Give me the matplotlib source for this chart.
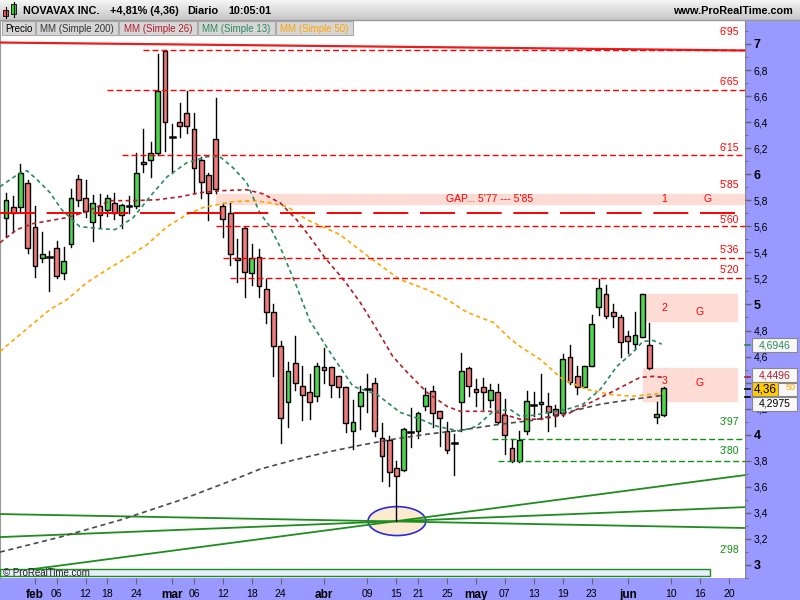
import matplotlib
matplotlib.use("Agg")
import matplotlib.pyplot as plt
from matplotlib.patches import Rectangle, Ellipse
import numpy as np

plt.rcParams['font.family'] = ['Liberation Sans', 'DejaVu Sans']

# ---- daily candles (feb .. jun) ----
opens = [5.667, 5.751, 5.751, 5.935, 5.598, 5.360, 5.368, 5.437, 5.245, 5.467,
         5.965, 5.820, 5.636, 5.758, 5.728, 5.781, 5.690, 5.758, 5.758, 6.096,
         6.111, 6.165, 6.946, 6.287, 6.402, 6.471, 6.348, 6.111, 5.996, 6.272,
         5.758, 5.705, 5.345, 5.590, 5.245, 5.368, 5.115, 4.939, 4.678, 4.249,
         4.548, 4.371, 4.326, 4.295, 4.517, 4.517, 4.448, 4.364, 4.027, 4.218,
         4.348, 4.394, 3.973, 3.958, 3.743, 3.728, 4.019, 4.027, 4.218, 4.333,
         4.180, 4.027, 3.935, 4.249, 4.509, 4.348, 4.364, 4.264, 4.326, 4.149,
         3.896, 3.797, 4.027, 4.226, 4.234, 4.218, 4.195, 4.165, 4.594, 4.448,
         4.364, 4.525, 4.977, 5.077, 4.946, 4.900, 4.755, 4.693, 4.747, 4.686,
         4.134, 4.149]
highs = [5.858, 5.835, 6.080, 5.958, 5.758, 5.559, 5.414, 5.490, 5.444, 5.889,
         5.996, 5.958, 5.843, 5.850, 5.843, 5.858, 5.774, 5.835, 6.165, 6.348,
         6.249, 6.923, 6.954, 6.387, 6.548, 6.640, 6.471, 6.134, 6.011, 6.586,
         5.781, 5.781, 5.506, 5.598, 5.467, 5.429, 5.199, 5.000, 4.716, 4.555,
         4.755, 4.525, 4.463, 4.548, 4.663, 4.517, 4.448, 4.364, 4.264, 4.371,
         4.463, 4.433, 4.088, 3.988, 3.797, 4.050, 4.203, 4.172, 4.356, 4.371,
         4.180, 4.096, 4.004, 4.624, 4.517, 4.425, 4.433, 4.387, 4.387, 4.272,
         3.965, 4.027, 4.333, 4.326, 4.463, 4.318, 4.226, 4.617, 4.686, 4.525,
         4.525, 4.923, 5.199, 5.153, 5.000, 4.923, 4.793, 4.939, 5.084, 4.854,
         4.249, 4.368]
lows = [5.529, 5.559, 5.720, 5.398, 5.214, 5.329, 5.100, 5.207, 5.199, 5.444,
        5.758, 5.674, 5.490, 5.598, 5.682, 5.659, 5.590, 5.705, 5.743, 6.019,
        5.981, 6.149, 6.180, 6.011, 6.287, 6.318, 5.858, 5.820, 5.651, 5.858,
        5.521, 5.306, 5.176, 5.054, 5.153, 5.061, 4.854, 4.448, 3.935, 4.057,
        4.341, 4.111, 4.119, 4.257, 4.394, 4.287, 4.287, 4.019, 3.889, 4.042,
        4.172, 3.988, 3.644, 3.605, 3.337, 3.720, 3.904, 3.973, 4.188, 4.057,
        3.912, 3.858, 3.689, 4.027, 4.295, 4.218, 4.195, 4.211, 4.090, 3.850,
        3.789, 3.789, 4.004, 4.142, 4.119, 4.027, 4.065, 4.142, 4.387, 4.310,
        4.364, 4.525, 4.923, 4.893, 4.824, 4.594, 4.624, 4.655, 4.747, 4.502,
        4.088, 4.142]
closes = [5.804, 5.705, 6.011, 5.437, 5.299, 5.391, 5.368, 5.222, 5.337, 5.820,
          5.804, 5.720, 5.781, 5.690, 5.820, 5.705, 5.766, 5.758, 6.011, 6.080,
          6.165, 6.640, 6.402, 6.287, 6.372, 6.372, 6.050, 5.942, 5.858, 5.889,
          5.659, 5.391, 5.360, 5.253, 5.360, 5.138, 4.939, 4.678, 4.126, 4.486,
          4.394, 4.303, 4.249, 4.525, 4.494, 4.379, 4.364, 4.088, 4.096, 4.326,
          4.348, 4.027, 3.835, 3.713, 3.682, 4.042, 4.019, 4.165, 4.303, 4.165,
          4.126, 3.881, 3.935, 4.486, 4.371, 4.326, 4.326, 4.341, 4.096, 3.996,
          3.797, 3.958, 4.257, 4.226, 4.249, 4.172, 4.149, 4.578, 4.402, 4.364,
          4.525, 4.847, 5.130, 4.908, 4.908, 4.709, 4.716, 4.762, 5.077, 4.509,
          4.157, 4.360]

# ---- moving averages (read at sample bars) ----
ma13_x = [-0.83, 1.94, 2.9, 4.3, 6.1, 7.7, 10.2, 13.0, 15.1, 17.6, 19.9, 22.3, 25.0,
          27.8, 29.6, 31.4, 33.3, 35.1, 36.5, 37.9, 40.2, 42.0, 45.2, 48.0, 51.3,
          54.5, 57.3, 59.6, 62.8, 65.1, 67.4, 69.7, 71.1, 72.9, 77.6, 79.8, 82.2,
          84.5, 86.7, 88.1, 89.5, 90.7]
ma13_y = [5.904, 6.011, 6.027, 5.958, 5.858, 5.728, 5.598, 5.582, 5.575, 5.667,
          5.827, 5.981, 6.088, 6.134, 6.134, 6.050, 5.935, 5.705, 5.598, 5.444,
          5.138, 4.877, 4.601, 4.371, 4.310, 4.172, 4.119, 4.065, 4.027, 4.065,
          4.180, 4.195, 4.142, 4.149, 4.195, 4.234, 4.348, 4.525, 4.632, 4.716,
          4.724, 4.695]
ma26_x = [-0.83, 1.52, 3.73, 8.44, 11.2, 14.4, 17.6, 20.9, 24.1, 26.8, 29.6, 33.3,
          35.5, 37.9, 40.2, 41.8, 44.1, 46.9, 49.0, 51.3, 53.5, 55.5, 58.2, 61.0,
          62.8, 67.4, 69.3, 71.1, 73.9, 77.6, 81.2, 84.5, 87.7, 89.5, 90.9]
ma26_y = [5.475, 5.575, 5.621, 5.667, 5.713, 5.797, 5.797, 5.804, 5.827, 5.858,
          5.873, 5.881, 5.850, 5.781, 5.651, 5.536, 5.360, 5.176, 5.015, 4.808,
          4.601, 4.479, 4.326, 4.218, 4.180, 4.180, 4.149, 4.119, 4.119, 4.157,
          4.257, 4.348, 4.440, 4.448, 4.440]
ma50_x = [-0.83, 6.09, 8.44, 11.2, 14.0, 16.7, 19.5, 22.3, 25.0, 27.2, 29.2, 31.4,
          34.2, 36.5, 38.9, 41.6, 46.2, 50.3, 54.5, 58.2, 61.0, 63.8, 67.4, 69.7,
          71.1, 73.9, 77.0, 80.4, 83.5, 86.7, 89.1, 90.9]
ma50_y = [4.640, 4.962, 5.038, 5.169, 5.268, 5.360, 5.460, 5.598, 5.690, 5.743,
          5.766, 5.789, 5.797, 5.781, 5.751, 5.651, 5.536, 5.360, 5.191, 5.115,
          5.038, 4.939, 4.862, 4.739, 4.678, 4.578, 4.425, 4.348, 4.310, 4.295,
          4.310, 4.318]
ma200_x = [-0.83, 7.47, 15.8, 24.1, 31.0, 35.1, 39.7, 44.4, 49.0, 53.5, 58.2, 62.8,
           68.3, 72.9, 77.6, 82.2, 86.7, 90.9]
ma200_y = [3.099, 3.214, 3.345, 3.498, 3.644, 3.735, 3.804, 3.866, 3.919, 3.965,
           4.004, 4.034, 4.080, 4.111, 4.172, 4.234, 4.272, 4.303]

# ---- drawings ----
red_levels = [6.95, 6.65, 6.15, 5.60, 5.36, 5.20]
red_labels = ["6'95", "6'65", "6'15", "5'60", "5'36", "5'20"]
red_start = [18.9, 14.0, 16.0, 29.0, 30.0, 31.0]
red_lbl_off = [13.3, 5.5, 5.0, 4.3, 5.8, 5.8]
green_levels = [3.97, 3.80]
green_labels = ["3'97", "3'80"]
green_start = [67.2, 68.0]
green_lbl_off = [12.0, 7.0]
long_level = 5.70
gap_lo, gap_hi = 5.77, 5.85
zone2 = (4.87, 5.077)
zone3 = (4.256, 4.509)
trend_green = [((-0.83, 3.391), (102.2, 3.284)),
               ((-0.83, 3.214), (102.2, 3.444)),
               ((-0.83, 2.935), (102.2, 3.690))]
trend_red = ((-0.83, 7.011), (102.2, 6.950))
circle_bar, circle_price = 54.08, 3.337

date_pos = [4, 7, 11, 14, 18, 23, 26, 30, 34, 38, 44, 50, 54, 57, 61, 65, 69, 73,
            77, 81, 86, 92, 96, 100]
date_lbl = ['feb', '06', '12', '18', '24', 'mar', '06', '12', '18', '24', 'abr', '09',
            '15', '21', '25', 'may', '07', '13', '19', '23', 'jun', '10', '16', '20']
months = ['feb', 'mar', 'abr', 'may', 'jun']

C13 = '#2a8a5e'
C26 = '#b01e2d'
C50 = '#ffa500'
C200 = '#4a4a4a'
PANEL = '#9999ff'
PINK = '#fddcd6'

fig = plt.figure(figsize=(8, 6), dpi=100)

# background (axis panels)
bg = fig.add_axes([0, 0, 1, 1])
bg.set_zorder(0)
bg.set_xlim(0, 800)
bg.set_ylim(600, 0)
bg.axis('off')
bg.add_patch(Rectangle((745, 20), 55, 580, color=PANEL))
bg.add_patch(Rectangle((0, 578), 800, 22, color=PANEL))
bg.plot([745, 745], [20, 578], color='#888888', lw=1)

# main chart
ax = fig.add_axes([0, 22 / 600, 745 / 800, 558 / 600])
ax.set_zorder(1)
ax.set_xlim(-0.83, 102.22)
ax.set_ylim(2.908, 7.184)
ax.set_facecolor('white')
for s in ['top', 'right', 'bottom']:
    ax.spines[s].set_visible(False)
ax.spines['left'].set_color('#999999')
ax.spines['left'].set_linewidth(1.5)

# zones
ax.add_patch(Rectangle((29.0, gap_lo), 80, gap_hi - gap_lo, color=PINK, zorder=1))
ax.add_patch(Rectangle((88.1, zone2[0]), 13.0, zone2[1] - zone2[0], color=PINK, zorder=1))
ax.add_patch(Rectangle((88.1, zone3[0]), 13.0, zone3[1] - zone3[0], color=PINK, zorder=1))

# ellipse + trend lines
ax.add_patch(Ellipse((circle_bar, circle_price), 8.0, 0.222, facecolor='#fdebd0',
                     edgecolor='#2b2bdd', lw=1.2, zorder=2))
for (x0, y0), (x1, y1) in trend_green:
    ax.plot([x0, x1], [y0, y1], color='#1e8c1e', lw=1.3, zorder=3)
ax.plot([trend_red[0][0], trend_red[1][0]], [trend_red[0][1], trend_red[1][1]],
        color='#e42020', lw=1.6, zorder=3)

# candles
w = 0.66
for i, (o, h, l, c) in enumerate(zip(opens, highs, lows, closes)):
    ax.plot([i, i], [l, h], color='black', lw=1, zorder=5)
    if c > o:
        fc = '#4fd64f'
    elif c < o:
        fc = '#ef7b7b'
    else:
        ax.plot([i - w / 2, i + w / 2], [c, c], color='black', lw=1.8, zorder=6)
        continue
    ax.add_patch(Rectangle((i - w / 2, min(o, c)), w, abs(c - o), facecolor=fc,
                           edgecolor='black', lw=1, zorder=6))

# moving averages
ax.plot(ma200_x, ma200_y, color=C200, lw=1.2, dashes=(3, 2.2), zorder=7)
ax.plot(ma50_x, ma50_y, color=C50, lw=1.2, dashes=(2.5, 2), zorder=7)
ax.plot(ma26_x, ma26_y, color=C26, lw=1.2, dashes=(2.5, 2), zorder=7)
ax.plot(ma13_x, ma13_y, color=C13, lw=1.2, dashes=(2.5, 2), zorder=7)

# horizontal levels
ax.plot([-0.83, 102.22], [long_level, long_level], color='red', lw=1.4,
        dashes=(18, 6), zorder=8)
for lv, lb, st, off in zip(red_levels, red_labels, red_start, red_lbl_off):
    ax.plot([st, 102.22], [lv, lv], color='red', lw=1, dashes=(4.3, 2.2), zorder=8)
    ax.annotate(lb, (101.4, lv), xytext=(0, off), textcoords='offset points',
                ha='right', va='center', color='red', fontsize=7.5, zorder=9)
ax.annotate("5'85", (101.4, gap_hi), xytext=(0, 6.5), textcoords='offset points',
            ha='right', va='center', color='red', fontsize=7.5, zorder=9)
for lv, lb, st, off in zip(green_levels, green_labels, green_start, green_lbl_off):
    ax.plot([st, 102.22], [lv, lv], color='#109010', lw=1, dashes=(4.3, 2.2), zorder=8)
    ax.annotate(lb, (101.4, lv), xytext=(0, off), textcoords='offset points',
                ha='right', va='center', color='#109010', fontsize=7.5, zorder=9)
ax.annotate("2'98", (101.4, 2.98), xytext=(0, 12.7), textcoords='offset points',
            ha='right', va='center', color='#109010', fontsize=7.5, zorder=9)

ax.text(66.9, (gap_lo + gap_hi) / 2, "GAP... 5'77 --- 5'85", color='red', fontsize=7.5,
        ha='center', va='center', zorder=9)
for y, num in [((gap_lo + gap_hi) / 2, '1'), (sum(zone2) / 2, '2'), (4.41, '3')]:
    ax.text(91.1, y, num, color='red', fontsize=7.5, ha='center', va='center', zorder=9)
ax.text(97.0, (gap_lo + gap_hi) / 2, 'G', color='red', fontsize=7.5, ha='center', va='center', zorder=9)
ax.text(96.0, sum(zone2) / 2 - 0.03, 'G', color='red', fontsize=7.5, ha='center', va='center', zorder=9)
ax.text(96.0, 4.40, 'G', color='red', fontsize=7.5, ha='center', va='center', zorder=9)

# y axis on the right (4,4 sits under the value boxes, so no label there)
yt = [round(3 + 0.2 * k, 1) for k in range(21)]
ylab = []
for v in yt:
    if v == 4.4:
        ylab.append('')
    elif v == int(v):
        ylab.append('%d' % v)
    else:
        ylab.append(('%.1f' % v).replace('.', ','))
ax.yaxis.tick_right()
ax.set_yticks(yt)
ax.set_yticklabels(ylab)
ax.set_yticks([round(2.9 + 0.1 * k, 1) for k in range(43)], minor=True)
ax.tick_params(axis='y', which='major', direction='out', length=4, width=1,
               color='#666666', pad=2, labelsize=7.5)
ax.tick_params(axis='y', which='minor', direction='out', length=2, color='#666666')
for t, v in zip(ax.get_yticklabels(), yt):
    if v == int(v):
        t.set_fontweight('bold')
        t.set_fontsize(9)

# x axis
ax.set_xticks(date_pos)
ax.set_xticklabels(date_lbl)
ax.tick_params(axis='x', direction='out', length=4, color='#666666', pad=4, labelsize=7.5)
for t in ax.get_xticklabels():
    if t.get_text() in months:
        t.set_fontweight('bold')
        t.set_fontsize(8.5)

# overlay: header, legend, value boxes
ov = fig.add_axes([0, 0, 1, 1])
ov.set_zorder(10)
ov.patch.set_visible(False)
grad = np.linspace(0.96, 0.78, 20)
ov.imshow(np.dstack([grad, grad, grad]).reshape(20, 1, 3),
          extent=(0, 800, 20, 0), aspect='auto')
ov.set_xlim(0, 800)
ov.set_ylim(600, 0)
ov.axis('off')
ov.plot([0, 800], [20, 20], color='#999999', lw=1)

# little icon
ov.plot([5.5, 5.5], [7, 18], color='black', lw=0.8)
ov.add_patch(Rectangle((3, 10), 5, 6, facecolor='#ef5050', edgecolor='black', lw=0.6))
ov.plot([13.5, 13.5], [2, 17], color='black', lw=0.8)
ov.add_patch(Rectangle((11, 4), 5, 10, facecolor='#30d030', edgecolor='black', lw=0.6))

ov.text(23, 11, 'NOVAVAX INC.', fontsize=7.8, fontweight='bold', va='center')
ov.text(110, 11, '+4,81% (4,36)', fontsize=7.8, fontweight='bold', va='center')
ov.text(187, 11, 'Diario', fontsize=7.8, fontweight='bold', va='center')
ov.text(228, 11, '10:05:01', fontsize=7.8, fontweight='bold', va='center')
ov.text(793, 11, 'www.ProRealTime.com', fontsize=7.8, fontweight='bold', va='center', ha='right')

leg = [('Precio', 'black', 2, 35), ('MM (Simple 200)', '#333333', 36, 118),
       ('MM (Simple 26)', C26, 119, 197), ('MM (Simple 13)', C13, 198, 275),
       ('MM (Simple 50)', C50, 276, 353)]
for txt, col, x0, x1 in leg:
    ov.add_patch(Rectangle((x0, 21), x1 - x0, 14, facecolor='#d6d6d6', edgecolor='#aaaaaa', lw=0.8))
    ov.text((x0 + x1) / 2, 28.5, txt, color=col, fontsize=7, ha='center', va='center')

# copyright bar
ov.add_patch(Rectangle((0, 569), 710, 7, facecolor='#e8eefb', edgecolor='#1e8c1e', lw=1))
ov.text(3, 573, '© ProRealTime.com', fontsize=7, va='center', color='#222222')

# last value boxes on the price scale
def vbox(y, txt, col, x0=752, x1=797, fc='#f7f7f7', size=7.5):
    ov.add_patch(Rectangle((x0, y - 7), x1 - x0, 14, facecolor=fc, edgecolor='#888888', lw=0.8))
    ov.text((x0 + x1) / 2, y, txt, color=col, fontsize=size, ha='center', va='center')

for y, col in [(345, C13), (377, C26), (389, 'black'), (397, 'black')]:
    ov.plot([745, 750], [y, y], color=col, lw=1.2)
vbox(345, '4,6946', C13)
vbox(375, '4,4496', C26)
ov.add_patch(Rectangle((752, 383), 45, 13, facecolor='#f7f7f7', edgecolor='#888888', lw=0.8))
ov.text(796, 388, '50', color=C50, fontsize=6.5, ha='right', va='center')
vbox(404, '4,2975', 'black')
vbox(389, '4,36', 'black', x0=752, x1=778, fc='#ffcc00', size=8.5)

fig.savefig('out.png', dpi=100)
